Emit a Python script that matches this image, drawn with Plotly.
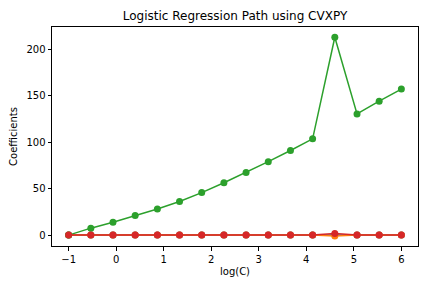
import plotly.graph_objects as go

log_c = [-1.0, -0.533, -0.067, 0.4, 0.867, 1.333, 1.8, 2.267, 2.733, 3.2, 3.667, 4.133, 4.6, 5.067, 5.533, 6.0]
coef_blue = [0, 0, 0, 0, 0, 0, 0, 0, 0, 0, 0, 0, 0.5, 0, 0, 0]
coef_orange = [0, 0, 0, 0, 0, 0, 0, 0, 0, 0, 0, 0, -1.0, 0, 0, 0]
coef_green = [0, 7.5, 13.8, 21, 28, 36.2, 45.7, 56.3, 67.4, 79, 91, 103.5, 212.8, 130.3, 144, 157]
coef_red = [0, 0, 0, 0, 0, 0, 0, 0, 0, 0, 0, 0, 1.8, 0, 0, 0]

series = [
    (coef_blue, "#1f77b4"),
    (coef_orange, "#ff7f0e"),
    (coef_green, "#2ca02c"),
    (coef_red, "#d62728"),
]

fig = go.Figure()
for vals, col in series:
    fig.add_trace(go.Scatter(
        x=log_c, y=vals, mode="lines+markers",
        line=dict(color=col, width=1.5),
        marker=dict(color=col, size=7),
        showlegend=False,
    ))

axis_common = dict(
    showline=True, linecolor="black", linewidth=1, mirror=True,
    ticks="outside", ticklen=3.5, tickcolor="black", tickwidth=1,
    showgrid=False, zeroline=False, automargin=False,
    tickfont=dict(family="DejaVu Sans", size=10, color="black"),
)

# page body has an 8px default margin; compensate so the plot lands where the reference has it
W, H = 424, 280
fig.update_layout(
    width=W, height=H,
    margin=dict(l=44, r=14, t=19, b=42, autoexpand=False),
    paper_bgcolor="white", plot_bgcolor="white",
    title=dict(text="Logistic Regression Path using CVXPY", x=(235 - 8) / W, xanchor="center",
               xref="container",
               y=1 - 8 / H, yanchor="middle",
               font=dict(family="DejaVu Sans", size=12, color="black")),
    xaxis=dict(range=[-1.35, 6.35], tickvals=[-1, 0, 1, 2, 3, 4, 5, 6],
               ticktext=["\u22121", "0", "1", "2", "3", "4", "5", "6"],
               title=dict(text="log(C)", standoff=4,
                          font=dict(family="DejaVu Sans", size=10, color="black")),
               **axis_common),
    yaxis=dict(range=[-11.7, 223.8], tickvals=[0, 50, 100, 150, 200],
               title=dict(text="Coefficients", standoff=6,
                          font=dict(family="DejaVu Sans", size=10, color="black")),
               **axis_common),
)

fig.write_html("out.html")
